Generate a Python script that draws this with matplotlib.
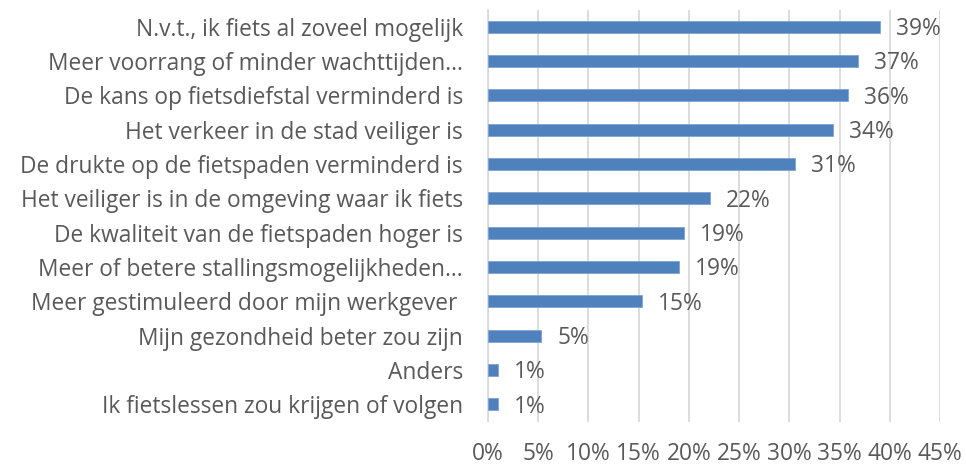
import matplotlib
matplotlib.use("Agg")
import matplotlib.pyplot as plt
from matplotlib.ticker import FuncFormatter

categories = [
    "N.v.t., ik fiets al zoveel mogelijk",
    "Meer voorrang of minder wachttijden\u2026",
    "De kans op fietsdiefstal verminderd is",
    "Het verkeer in de stad veiliger is",
    "De drukte op de fietspaden verminderd is",
    "Het veiliger is in de omgeving waar ik fiets",
    "De kwaliteit van de fietspaden hoger is",
    "Meer of betere stallingsmogelijkheden\u2026",
    "Meer gestimuleerd door mijn werkgever ",
    "Mijn gezondheid beter zou zijn",
    "Anders",
    "Ik fietslessen zou krijgen of volgen",
]
values = [39.0, 36.8, 35.8, 34.3, 30.6, 22.1, 19.5, 19.0, 15.3, 5.3, 1.0, 1.0]
value_labels = ["39%", "37%", "36%", "34%", "31%", "22%", "19%", "19%", "15%", "5%", "1%", "1%"]
xticks = [0, 5, 10, 15, 20, 25, 30, 35, 40, 45]

plt.rcParams['font.family'] = ['Open Sans', 'DejaVu Sans']
txt = '#595959'
fs = 16.4

fig = plt.figure(figsize=(9.66, 4.65), dpi=100)
ax = fig.add_axes([488/966, 1-421.5/465, (940-488)/966, (421.5-9.5)/465])

ypos = list(range(len(categories)))
ax.barh(ypos, values, height=0.35, color='#4F81BD', edgecolor='#7FA3D3', linewidth=0.6, zorder=3)
for y, v, lab in zip(ypos, values, value_labels):
    ax.text(v + 1.6, y + 0.07, lab, va='center', ha='left', fontsize=fs, color=txt)

ax.set_xlim(0, 45)
ax.set_ylim(len(categories) - 0.5, -0.5)
ax.set_xticks(xticks)
ax.xaxis.set_major_formatter(FuncFormatter(lambda x, p: f"{int(x)}%"))
ax.set_yticks(ypos)
ax.set_yticklabels(categories)
ax.tick_params(axis='y', length=0, pad=18, labelsize=fs, labelcolor=txt)
ax.tick_params(axis='x', length=0, pad=15, labelsize=fs, labelcolor=txt)
ax.grid(axis='x', color='#d9d9d9', linewidth=1.3, zorder=0)
for s in ['top', 'right', 'bottom']:
    ax.spines[s].set_visible(False)
ax.spines['left'].set_color('#d9d9d9')
ax.spines['left'].set_linewidth(1.3)

fig.savefig('out.png', dpi=100)
